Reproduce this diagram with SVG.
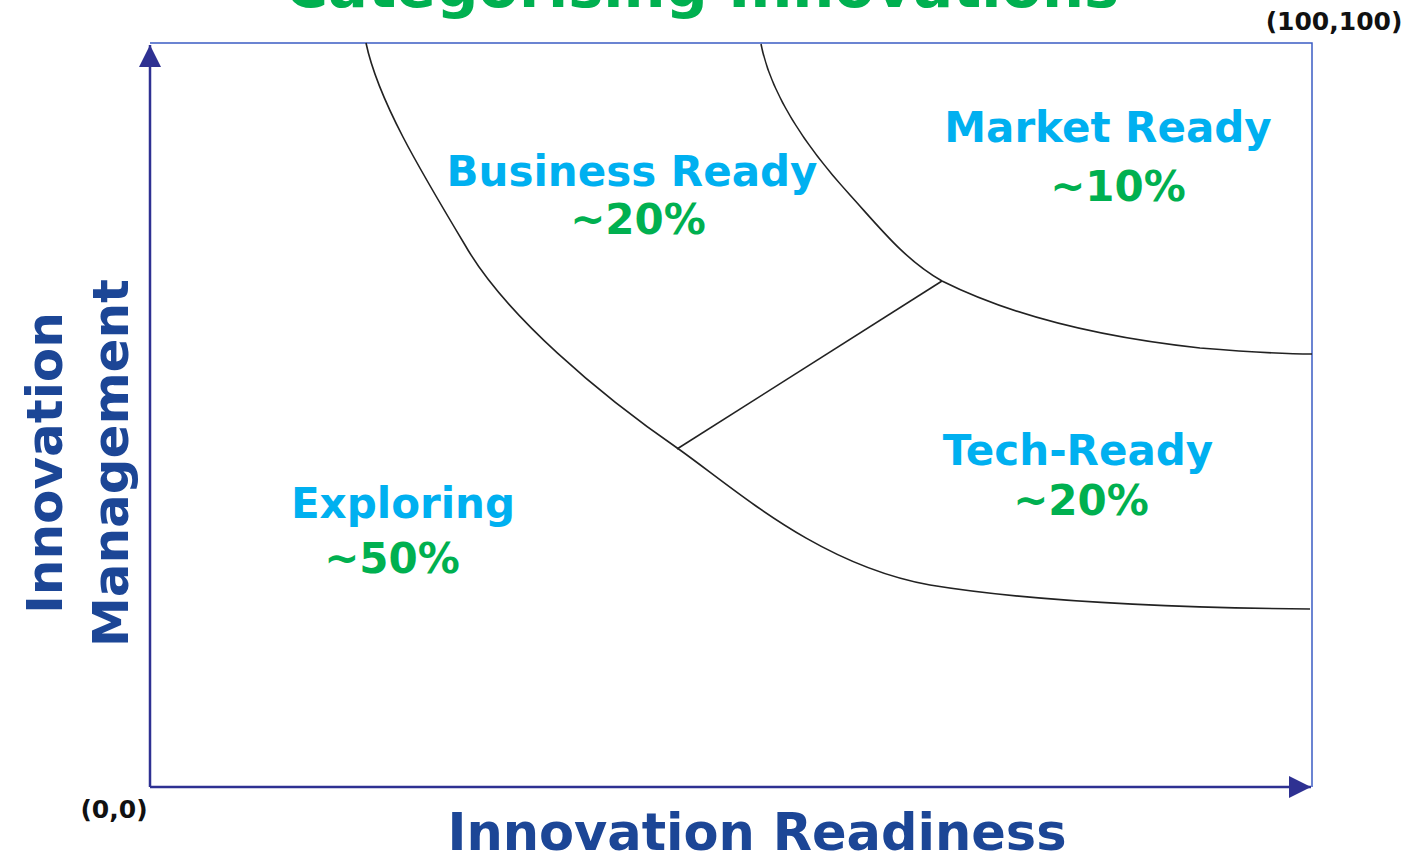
<svg xmlns="http://www.w3.org/2000/svg" width="1416" height="859" viewBox="0 0 1416 859">
<style>
text{font-family:"DejaVu Sans","Verdana","Liberation Sans",sans-serif;font-weight:bold;text-anchor:middle}
.cat{font-size:42px;fill:#00B0F0}
.pct{font-size:42px;fill:#00B050}
.axl{font-size:50px;fill:#1C4696}
.crn{font-size:25px;fill:#111}
.title{font-size:59px;fill:#00B050}
.curve{fill:none;stroke:#222;stroke-width:1.6}
.frame{fill:none;stroke:#3B5CC4;stroke-width:1.5}
.axis{fill:none;stroke:#2E3192;stroke-width:2.5}
</style>
<defs>
<marker id="arr" markerUnits="userSpaceOnUse" markerWidth="24" markerHeight="24" refX="22" refY="11" orient="auto">
<path d="M0,0 L22,11 L0,22 Z" fill="#2E3192"/>
</marker>
</defs>
<rect width="1416" height="859" fill="#fff"/>
<text id="title" class="title" x="702" y="7">Categorising Innovations</text>
<g id="frame">
<polyline class="frame" points="150,43 1312,43 1312,787"/>
</g>
<g id="axes">
<line class="axis" x1="150" y1="787" x2="1311" y2="787" marker-end="url(#arr)"/>
<line class="axis" x1="150" y1="787" x2="150" y2="45" marker-end="url(#arr)"/>
</g>
<g id="connectors">
<path class="curve" d="M366,43 C378,100 420,170 465,245 C505,315 600,395 680,450 C740,493 820,565 930,585 C1040,603 1200,608 1310,609"/>
<path class="curve" d="M761,44 C770,90 800,140 850,195 C880,228 905,260 942,281 C1000,310 1080,335 1200,348 C1250,352 1290,354 1312,354"/>
<line class="curve" x1="677" y1="449" x2="942" y2="281"/>
</g>
<g id="exploring">
<text class="cat" x="403" y="518">Exploring</text>
<text class="pct" x="392" y="573">~50%</text>
</g>
<g id="business-ready">
<text class="cat" x="632" y="186">Business Ready</text>
<text class="pct" x="638" y="234">~20%</text>
</g>
<g id="market-ready">
<text class="cat" x="1108" y="142">Market Ready</text>
<text class="pct" x="1118" y="201">~10%</text>
</g>
<g id="tech-ready">
<text class="cat" x="1078" y="465">Tech-Ready</text>
<text class="pct" x="1081" y="515">~20%</text>
</g>
<g id="axis-labels">
<text class="axl" x="757" y="850" style="font-size:51px">Innovation Readiness</text>
<text class="axl" transform="translate(62,463) rotate(-90)">Innovation</text>
<text class="axl" transform="translate(128,463) rotate(-90)">Management</text>
</g>
<g id="corner-labels">
<text class="crn" x="1334" y="30">(100,100)</text>
<text class="crn" x="114" y="818">(0,0)</text>
</g>
</svg>
